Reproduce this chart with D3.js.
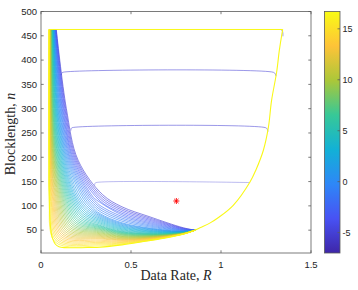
<!DOCTYPE html>
<html><head><meta charset="utf-8">
<script src="https://cdn.jsdelivr.net/npm/d3@7"></script>
<style>body{margin:0;background:#fff}svg{display:block}</style>
</head><body>
<svg id="chart" width="358" height="290"></svg>
<script>
// contour levels (one curve each), inner (yellow) to outer (purple)
const levels = [16,15.5,15,14.5,14,13.5,13,12.5,12,11.5,11,10.5,10,9.5,9,8.5,8,7.5,7,6.5,6,5.5,5,4.5,4,3.5,3,2.5,2,1.5,1,0.5,0,-0.5,-1,-1.5,-2,-2.5,-3,-3.5,-4,-4.5,-5];
// R where each contour meets the top edge n = 463
const rAt463 = [.0443,.0448,.0453,.0459,.0465,.0472,.0479,.0486,.0494,.0502,.0510,.0518,.0527,.0535,.0544,.0553,.0563,.0572,.0582,.0592,.0601,.0612,.0622,.0632,.0643,.0653,.0664,.0675,.0686,.0697,.0708,.0719,.0731,.0742,.0754,.0765,.0777,.0789,.0801,.0813,.0825,.0838,.0850];
// R at n = 300
const rAt300 = [.0444,.0446,.0448,.0453,.0460,.0468,.0477,.0487,.0498,.0510,.0523,.0538,.0553,.0569,.0586,.0604,.0623,.0642,.0663,.0685,.0707,.0730,.0755,.0780,.0805,.0832,.0860,.0888,.0917,.0947,.0978,.1010,.1042,.1076,.1110,.1144,.1180,.1216,.1254,.1292,.1330,.1370,.1410];
// R at n = 194
const rAt194 = [.0444,.0452,.0463,.0476,.0492,.0509,.0529,.0550,.0573,.0597,.0623,.0650,.0679,.0709,.0740,.0773,.0807,.0842,.0878,.0916,.0955,.0994,.1035,.1077,.1120,.1164,.1209,.1255,.1303,.1351,.1400,.1450,.1501,.1553,.1605,.1659,.1714,.1769,.1826,.1883,.1941,.2000,.2060];
// R at n = 120 (inner and middle contours)
const rAt120 = [.0459,.0486,.0518,.0554,.0592,.0633,.0676,.0721,.0767,.0815,.0865,.0916,.0968,.1021,.1076,.1132,.1188,.1246,.1305,.1364,.1425,.1486,.1548,.1611,.1675,.174,.181,.188,.196,.205,.215,.226,.236,.246,.256,.266,.276,.286,null,null,null,null,null];
// knee of each contour (closest approach to the lower-left corner)
const kneeR = [.0785,.0848,.0910,.0973,.1036,.1098,.1161,.1223,.1286,.1349,.1412,.1474,.1537,.1599,.1662,.1725,.1787,.1850,.1913,.1976,.2038,.2101,.2163,.2226,.2289,.2352,.2414,.2477,.2540,.2602,.2664,.2727,.2790,.2853,.2916,.2978,.3041,.3103,.3166,.3229,.3291,.3354,.3417];
const kneeN = [25.6,28.0,30.3,32.6,34.9,37.3,39.6,41.9,44.2,46.6,48.9,51.2,53.5,55.9,58.2,60.5,62.8,65.2,67.5,69.8,72.1,74.5,76.8,79.1,81.4,83.8,86.1,88.4,90.7,93.1,95.4,97.7,100.0,102.4,104.7,107.0,109.3,111.7,114.0,116.3,118.6,121.0,123.3];
// n at R = 0.328, 0.45, 0.6, 0.79
const nAt0328 = [17.4,19.9,22.3,24.7,27.1,29.5,32.0,33.8,35.6,37.4,39.2,41.0,42.8,44.6,46.4,48.2,50.0,51.7,53.3,55.0,56.6,58.3,60.0,62.4,64.8,67.2,69.6,72.0,74.4,76.8,79.2,81.6,84.1,88.3,92.5,96.7,100.9,null,null,null,null,null,null];
const nAt045 = [21.0,22.1,23.4,24.7,26.1,27.5,29.0,30.1,31.2,32.4,33.5,34.7,35.9,37.0,38.2,39.5,40.7,41.8,43.0,44.1,45.2,46.4,47.6,49.3,51.0,52.7,54.5,56.3,58.0,59.8,61.6,63.4,65.2,68.4,71.6,74.8,78.1,81.4,84.6,87.9,91.3,94.6,98.0];
const nAt06 = [28.8,29.2,29.7,30.3,31.0,31.7,32.4,33.0,33.6,34.2,34.8,35.5,36.1,36.8,37.5,38.2,38.9,39.6,40.3,41.0,41.7,42.4,43.1,44.2,45.3,46.4,47.5,48.6,49.8,51.0,52.2,53.4,54.6,56.8,59.0,61.2,63.5,65.8,68.2,70.6,73.0,75.5,78.0];
const nAt079 = [42.0,42.1,42.1,42.2,42.2,42.3,42.4,42.5,42.6,42.7,42.8,43.0,43.1,43.2,43.3,43.5,43.6,43.8,43.9,44.1,44.2,44.4,44.6,44.8,45.1,45.3,45.6,45.9,46.2,46.5,46.9,47.2,47.5,48.2,48.8,49.5,50.2,50.9,51.7,52.5,53.3,54.1,55.0];
const tipPoint = [0.856, 50];
const topN = 463;

// outer yellow boundary (level 16.5)
const boundaryLevel = 16.5;
const boundary = [[0.044,463],[0.044,300],[0.044,194],[0.0445,150],[0.046,110],[0.048,85],[0.052,60],[0.058,42],[0.066,31],[0.08,21],[0.1,16],[0.13,14],[0.2,13.8],[0.27,14.3],[0.328,14.9],[0.45,19.8],[0.6,28.3],[0.7,34.5],[0.79,41.8],[0.856,50],[0.883,55],[0.94,65],[0.99,77],[1.068,101],[1.161,149],[1.194,174],[1.235,214],[1.263,261],[1.281,317],[1.309,375],[1.324,420],[1.339,455],[1.343,463]];
const boundaryTop = [[0.044,463],[1.343,463]];

// flat low-level contour segments
const flatLevel = -5;
const flat375 = [[0.113,369],[0.116,373.5],[0.123,375],[1.29,375],[1.30,372.5],[1.306,367]];
const flat261 = [[0.166,255],[0.168,259.5],[0.174,261],[1.247,261],[1.256,258.5],[1.261,253]];
const flat148 = [[0.298,142],[0.300,146.5],[0.306,148],[1.158,148]];
const topHook = [[1.333,463],[1.342,459],[1.344,449]];

// marker
const markerR = [0.752];
const markerN = [110];

const xTicks = [0, 0.5, 1, 1.5];
const xTickLabels = ["0", "0.5", "1", "1.5"];
const yTicks = [50,100,150,200,250,300,350,400,450,500];
const cbTicks = [-5, 0, 5, 10, 15];
const cbDomain = [-7.0, 16.7];
const parula = ["#3e26a8","#4852f4","#2e87f7","#12b1d6","#37c897","#abc739","#fec338","#f9fb15"];

const svg = d3.select("#chart");
const L = 41, R = 311, T = 11.5, B = 253;
const x = d3.scaleLinear([0, 1.5], [L, R]);
const y = d3.scaleLinear([3, 500], [B, T]);
const color = d3.scaleLinear(d3.range(8).map(i => cbDomain[0] + i * (cbDomain[1] - cbDomain[0]) / 7), parula).interpolate(d3.interpolateRgb);

svg.append("defs").append("clipPath").attr("id", "clip")
  .append("rect").attr("x", L).attr("y", T).attr("width", R - L).attr("height", B - T);

const line = d3.line().x(d => x(d[0])).y(d => y(d[1])).curve(d3.curveCatmullRom.alpha(0.5));
const straight = d3.line().x(d => x(d[0])).y(d => y(d[1]));

const g = svg.append("g").attr("clip-path", "url(#clip)");

// flat segments
[[flat375, 0.6], [flat261, 0.6], [flat148, 0.4], [topHook, 0.6]].forEach(([pts, op]) => {
  g.append("path").attr("d", line(pts)).attr("fill", "none")
    .attr("stroke", color(flatLevel)).attr("stroke-opacity", op).attr("stroke-width", 0.9);
});

// contour family, outer first
const curves = levels.map((lev, i) => {
  const pts = [[rAt463[i], topN], [rAt300[i], 300], [rAt194[i], 194]];
  if (rAt120[i] != null) pts.push([rAt120[i], 120]);
  pts.push([kneeR[i], kneeN[i]]);
  if (nAt0328[i] != null) pts.push([0.328, nAt0328[i]]);
  pts.push([0.45, nAt045[i]], [0.6, nAt06[i]], [0.79, nAt079[i]], tipPoint);
  return {lev, pts};
});
curves.slice().reverse().forEach(c => {
  g.append("path").attr("d", line(c.pts)).attr("fill", "none")
    .attr("stroke", color(c.lev)).attr("stroke-width", 0.62);
});

// boundary
g.append("path").attr("d", line(boundary)).attr("fill", "none")
  .attr("stroke", color(boundaryLevel)).attr("stroke-width", 1.1);
g.append("path").attr("d", straight(boundaryTop)).attr("fill", "none")
  .attr("stroke", color(boundaryLevel)).attr("stroke-width", 1);

// marker (*)
markerR.forEach((r, i) => {
  const cx = x(r), cy = y(markerN[i]), s = 3;
  const mk = svg.append("g").attr("stroke", "#ff0000").attr("stroke-width", 0.9);
  mk.append("line").attr("x1", cx - s).attr("x2", cx + s).attr("y1", cy).attr("y2", cy);
  mk.append("line").attr("x1", cx).attr("x2", cx).attr("y1", cy - s).attr("y2", cy + s);
  mk.append("line").attr("x1", cx - s*0.72).attr("x2", cx + s*0.72).attr("y1", cy - s*0.72).attr("y2", cy + s*0.72);
  mk.append("line").attr("x1", cx - s*0.72).attr("x2", cx + s*0.72).attr("y1", cy + s*0.72).attr("y2", cy - s*0.72);
});

// axes box and ticks
const axc = "#5a5a5a";
svg.append("rect").attr("x", L).attr("y", T).attr("width", R - L).attr("height", B - T)
  .attr("fill", "none").attr("stroke", axc).attr("stroke-width", 0.8);
const tk = 2.7;
const tg = svg.append("g").attr("stroke", axc).attr("stroke-width", 0.8);
xTicks.forEach(v => {
  tg.append("line").attr("x1", x(v)).attr("x2", x(v)).attr("y1", B).attr("y2", B - tk);
  tg.append("line").attr("x1", x(v)).attr("x2", x(v)).attr("y1", T).attr("y2", T + tk);
});
yTicks.forEach(v => {
  tg.append("line").attr("x1", L).attr("x2", L + tk).attr("y1", y(v)).attr("y2", y(v));
  tg.append("line").attr("x1", R).attr("x2", R - tk).attr("y1", y(v)).attr("y2", y(v));
});
const font = "'Liberation Sans', Arial, sans-serif";
svg.append("g").selectAll("text").data(xTicks).join("text")
  .attr("x", d => x(d)).attr("y", 267.5).attr("text-anchor", "middle")
  .attr("font-family", font).attr("font-size", 9.5).attr("fill", "#262626")
  .text((d, i) => xTickLabels[i]);
svg.append("g").selectAll("text").data(yTicks).join("text")
  .attr("x", 37).attr("y", d => y(d)).attr("dy", "0.35em").attr("text-anchor", "end")
  .attr("font-family", font).attr("font-size", 9.5).attr("fill", "#262626")
  .text(d => d);

// axis labels
const serif = "'Liberation Serif', 'Times New Roman', serif";
const xl = svg.append("text").attr("x", 176).attr("y", 280).attr("text-anchor", "middle")
  .attr("font-family", serif).attr("font-size", 14).attr("fill", "#262626");
xl.append("tspan").text("Data Rate, ");
xl.append("tspan").attr("font-style", "italic").text("R");
const yl = svg.append("text").attr("transform", "translate(15,134) rotate(-90)").attr("text-anchor", "middle")
  .attr("font-family", serif).attr("font-size", 14).attr("fill", "#262626");
yl.append("tspan").text("Blocklength, ");
yl.append("tspan").attr("font-style", "italic").text("n");

// colorbar
const cbL = 324.5, cbR = 340, cbT = 11.5, cbB = 253;
const grad = svg.select("defs").append("linearGradient").attr("id", "cbgrad")
  .attr("x1", 0).attr("y1", 1).attr("x2", 0).attr("y2", 0);
parula.forEach((c, i) => grad.append("stop").attr("offset", i / 7).attr("stop-color", c));
svg.append("rect").attr("x", cbL).attr("y", cbT).attr("width", cbR - cbL).attr("height", cbB - cbT)
  .attr("fill", "url(#cbgrad)").attr("stroke", axc).attr("stroke-width", 0.8);
const cy = d3.scaleLinear(cbDomain, [cbB, cbT]);
cbTicks.forEach(v => {
  svg.append("line").attr("x1", cbR).attr("x2", cbR - 2.5).attr("y1", cy(v)).attr("y2", cy(v))
    .attr("stroke", axc).attr("stroke-width", 0.8);
  svg.append("text").attr("x", 342.5).attr("y", cy(v)).attr("dy", "0.35em")
    .attr("font-family", font).attr("font-size", 9).attr("fill", "#262626").text(v);
});
</script>
</body></html>
